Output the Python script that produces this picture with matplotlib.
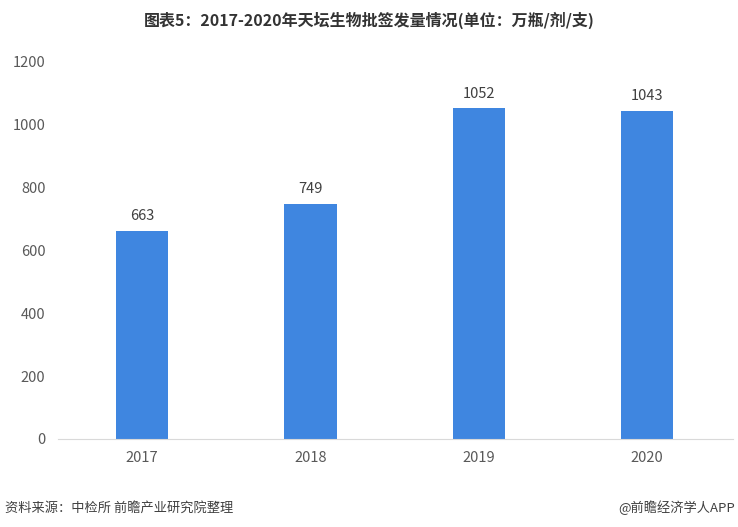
import matplotlib
matplotlib.use("Agg")
import matplotlib.pyplot as plt

plt.rcParams['font.family'] = ['Noto Sans CJK SC', 'DejaVu Sans']

years = ['2017', '2018', '2019', '2020']
values = [663, 749, 1052, 1043]

fig = plt.figure(figsize=(7.38, 5.27), dpi=100)
ax = fig.add_axes([58/738, 88/527, 675/738, 377/527])

x = range(len(years))
ax.bar(x, values, width=0.31, color='#3f86e0', zorder=2)
for i, v in enumerate(values):
    ax.text(i, v + 25, str(v), ha='center', va='bottom', fontsize=10.5, color='#404040')

ax.set_xlim(-0.5, 3.51)
ax.set_ylim(0, 1200)
ax.set_yticks(range(0, 1201, 200))
ax.set_xticks(list(x))
ax.set_xticklabels(years)
ax.tick_params(axis='both', length=0, labelsize=10.5, colors='#595959')
ax.tick_params(axis='y', pad=9)
ax.tick_params(axis='x', pad=9)
for s in ['top', 'right', 'left']:
    ax.spines[s].set_visible(False)
ax.spines['bottom'].set_color('#d9d9d9')

fig.text(0.5, 1 - 20/527, '图表5：2017-2020年天坛生物批签发量情况(单位：万瓶/剂/支)',
         ha='center', va='center', fontsize=11.5, fontweight='bold', color='#333333')
fig.text(5/738, 1 - 508/527, '资料来源：中检所 前瞻产业研究院整理', ha='left', va='center',
         fontsize=9.5, color='#404040')
fig.text(735/738, 1 - 508/527, '@前瞻经济学人APP', ha='right', va='center',
         fontsize=9.5, color='#404040')

fig.savefig('out.png', dpi=100)
